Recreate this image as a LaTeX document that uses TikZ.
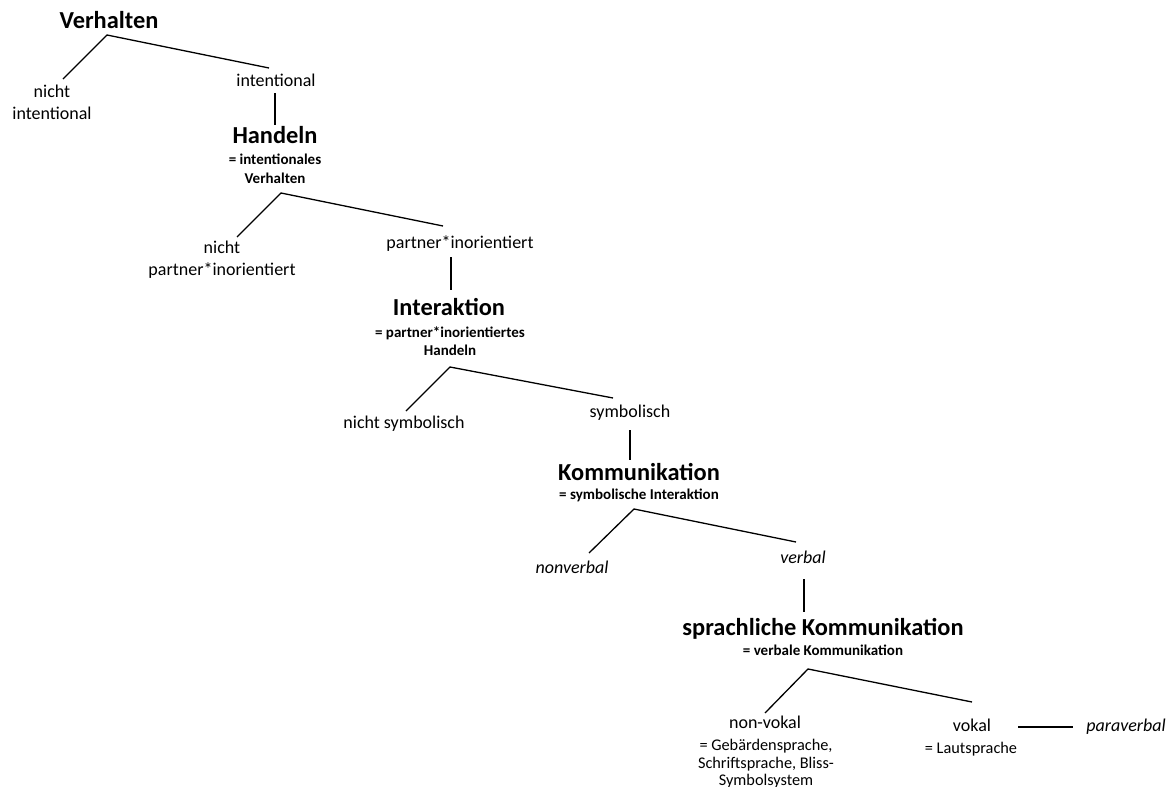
\documentclass[tikz,border=0pt]{standalone}
\usepackage{fontspec}
\setmainfont{Carlito}
\begin{document}
\begin{tikzpicture}[x=1pt,y=-1pt,
  every node/.style={inner sep=0pt,anchor=base},
  head/.style={font=\fontsize{24.4}{29}\selectfont\bfseries},
  norm/.style={font=\fontsize{18}{22}\selectfont},
  ital/.style={font=\fontsize{18}{22}\selectfont\itshape},
  sub/.style={font=\fontsize{15}{18}\selectfont\bfseries},
  small/.style={font=\fontsize{16.3}{19}\selectfont},
  conn/.style={line width=1.3pt}]
\useasboundingbox (0,0) rectangle (1171,787);

% level 1
\node[head] (V) at (109,28) {Verhalten};
\node[norm] (nI1) at (52,97) {nicht};
\node[norm] (nI2) at (52,119) {intentional};
\node[norm] (I) at (276,86) {intentional};
\coordinate (aV) at (107,35);
\coordinate (eV1) at (63,79);
\coordinate (eV2) at (269,68);
\draw[conn] (eV1) -- (aV) -- (eV2);
\draw[conn] (275,93) -- (275,125);

% level 2
\node[head] (H) at (275,143) {Handeln};
\node[sub] (H1) at (275,164) {= intentionales};
\node[sub] (H2) at (275,183) {Verhalten};
\node[norm] (nP1) at (222,253) {nicht};
\node[norm] (nP2) at (222,275) {partner*inorientiert};
\node[norm] (P) at (460,248) {partner*inorientiert};
\coordinate (aH) at (281,193);
\coordinate (eH1) at (237,237);
\coordinate (eH2) at (443,226);
\draw[conn] (eH1) -- (aH) -- (eH2);
\draw[conn] (451,257) -- (451,290);

% level 3
\node[head] (In) at (449,315) {Interaktion};
\node[sub] (In1) at (450,337) {= partner*inorientiertes};
\node[sub] (In2) at (450,355) {Handeln};
\node[norm] (nS) at (404,428) {nicht symbolisch};
\node[norm] (S) at (630,417) {symbolisch};
\coordinate (aIn) at (450,367);
\coordinate (eIn1) at (406,411);
\coordinate (eIn2) at (613,398);
\draw[conn] (eIn1) -- (aIn) -- (eIn2);
\draw[conn] (630,430) -- (630,460);

% level 4
\node[head] (K) at (639,480) {Kommunikation};
\node[sub] (K1) at (639,499) {= symbolische Interaktion};
\node[ital] (NV) at (572,573) {nonverbal};
\node[ital] (VB) at (803,563) {verbal};
\coordinate (aK) at (634,509);
\coordinate (eK1) at (589,553);
\coordinate (eK2) at (796,542);
\draw[conn] (eK1) -- (aK) -- (eK2);
\draw[conn] (804,579) -- (804,612);

% level 5
\node[head] (SK) at (823,635) {sprachliche Kommunikation};
\node[sub] (SK1) at (823,655) {= verbale Kommunikation};
\node[norm] (NVo) at (765,728) {non-vokal};
\node[small] (NVo1) at (766,750) {= Gebärdensprache,};
\node[small] (NVo2) at (766,768) {Schriftsprache, Bliss-};
\node[small] (NVo3) at (766,785) {Symbolsystem};
\node[norm] (Vo) at (972,731) {vokal};
\node[small] (Vo1) at (971,753) {= Lautsprache};
\node[ital] (PV) at (1126,731) {paraverbal};
\coordinate (aSK) at (808,669);
\coordinate (eSK1) at (765,713);
\coordinate (eSK2) at (972,702);
\draw[conn] (eSK1) -- (aSK) -- (eSK2);
\coordinate (hV1) at (1018,727);
\coordinate (hV2) at (1073,727);
\draw[conn] (hV1) -- (hV2);
\end{tikzpicture}
\end{document}
